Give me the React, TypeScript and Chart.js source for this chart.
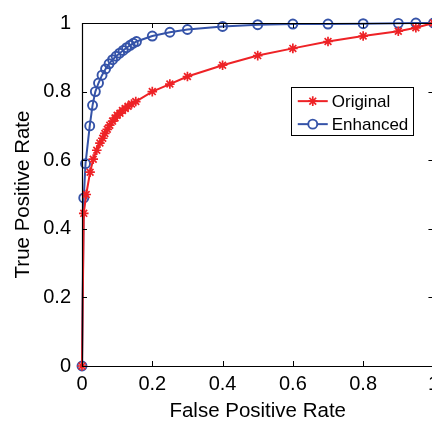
import React, { useEffect, useRef } from 'react';
import { Chart, registerables } from 'chart.js';
Chart.register(...registerables);

const seriesNames = ['Original', 'Enhanced'];
const seriesColors = ['#ee2226', '#3553a8'];

const fprOriginal = [0, 0.005, 0.012, 0.023, 0.032, 0.042, 0.051, 0.059, 0.065, 0.072, 0.079, 0.087, 0.094, 0.1, 0.108, 0.115, 0.123, 0.131, 0.141, 0.153, 0.2, 0.25, 0.3, 0.4, 0.5, 0.6, 0.7, 0.8, 0.9, 0.95, 1];
const tprOriginal = [0, 0.445, 0.5, 0.565, 0.603, 0.629, 0.65, 0.664, 0.678, 0.69, 0.702, 0.714, 0.723, 0.731, 0.737, 0.745, 0.751, 0.757, 0.764, 0.771, 0.8, 0.822, 0.844, 0.877, 0.905, 0.926, 0.946, 0.962, 0.976, 0.986, 1];

const fprEnhanced = [0, 0.005, 0.01, 0.022, 0.03, 0.038, 0.047, 0.057, 0.067, 0.077, 0.087, 0.097, 0.107, 0.117, 0.127, 0.137, 0.146, 0.155, 0.2, 0.25, 0.3, 0.4, 0.5, 0.6, 0.7, 0.8, 0.9, 0.95, 1];
const tprEnhanced = [0, 0.49, 0.59, 0.7, 0.76, 0.8, 0.825, 0.848, 0.866, 0.881, 0.893, 0.903, 0.912, 0.92, 0.928, 0.935, 0.941, 0.946, 0.962, 0.973, 0.981, 0.99, 0.995, 0.997, 0.997, 0.998, 0.999, 1, 1];

const tickValues = [0, 0.2, 0.4, 0.6, 0.8, 1];
const tickLabels = ['0', '0.2', '0.4', '0.6', '0.8', '1'];
const xTitle = 'False Positive Rate';
const yTitle = 'True Positive Rate';

const FONT = '"Liberation Sans", Arial, Helvetica, sans-serif';

function drawStar(ctx: CanvasRenderingContext2D, x: number, y: number, r: number) {
  ctx.beginPath();
  for (let k = 0; k < 4; k++) {
    const a = (k * Math.PI) / 4;
    ctx.moveTo(x - r * Math.cos(a), y - r * Math.sin(a));
    ctx.lineTo(x + r * Math.cos(a), y + r * Math.sin(a));
  }
  ctx.stroke();
}

const framePlugin = {
  id: 'matlabFrame',
  afterDraw(chart: any) {
    const { ctx, chartArea } = chart;
    const { left, right, top, bottom } = chartArea;
    const xs = chart.scales.x;
    const ys = chart.scales.y;
    ctx.save();
    ctx.strokeStyle = '#000';
    ctx.lineWidth = 1.2;
    ctx.beginPath();
    ctx.rect(Math.round(left) + 0.5, Math.round(top) + 0.5, Math.round(right - left), Math.round(bottom - top));
    ctx.stroke();
    const tl = 5;
    ctx.lineWidth = 1;
    ctx.beginPath();
    tickValues.forEach((v) => {
      const px = Math.round(xs.getPixelForValue(v)) + 0.5;
      ctx.moveTo(px, bottom);
      ctx.lineTo(px, bottom - tl);
      ctx.moveTo(px, top);
      ctx.lineTo(px, top + tl);
      const py = Math.round(ys.getPixelForValue(v)) + 0.5;
      ctx.moveTo(left, py);
      ctx.lineTo(left + tl, py);
      ctx.moveTo(right, py);
      ctx.lineTo(right - tl, py);
    });
    ctx.stroke();

    // legend
    const bx = left + (right - left) * 0.594;
    const by = top + (bottom - top) * 0.187;
    const bw = 122;
    const bh = 48;
    ctx.fillStyle = '#fff';
    ctx.fillRect(bx, by, bw, bh);
    ctx.strokeStyle = '#000';
    ctx.strokeRect(Math.round(bx) + 0.5, Math.round(by) + 0.5, bw, bh);
    ctx.font = `17px ${FONT}`;
    ctx.textBaseline = 'middle';
    ctx.textAlign = 'left';
    seriesNames.forEach((name, i) => {
      const ry = by + 14 + i * 23;
      ctx.strokeStyle = seriesColors[i];
      ctx.lineWidth = 2;
      ctx.beginPath();
      ctx.moveTo(bx + 7, ry);
      ctx.lineTo(bx + 37, ry);
      ctx.stroke();
      if (i === 0) {
        ctx.lineWidth = 1.7;
        drawStar(ctx, bx + 22, ry, 4.8);
      } else {
        ctx.lineWidth = 1.9;
        ctx.fillStyle = '#fff';
        ctx.beginPath();
        ctx.arc(bx + 22, ry, 4.5, 0, Math.PI * 2);
        ctx.fill();
        ctx.stroke();
      }
      ctx.fillStyle = '#000';
      ctx.fillText(name, bx + 41, ry + 1);
    });
    ctx.restore();
  },
};

export default function App() {
  const ref = useRef<HTMLCanvasElement | null>(null);
  useEffect(() => {
    if (!ref.current) return;
    const toPts = (xs: number[], ys: number[]) => xs.map((x, i) => ({ x, y: ys[i] }));
    const chart = new Chart(ref.current, {
      type: 'line',
      data: {
        datasets: [
          {
            label: seriesNames[0],
            data: toPts(fprOriginal, tprOriginal),
            borderColor: seriesColors[0],
            backgroundColor: seriesColors[0],
            borderWidth: 2,
            pointStyle: 'star',
            pointRadius: 4.8,
            pointBorderWidth: 1.7,
            pointBorderColor: seriesColors[0],
            tension: 0,
            clip: false as any,
          },
          {
            label: seriesNames[1],
            data: toPts(fprEnhanced, tprEnhanced),
            borderColor: seriesColors[1],
            backgroundColor: 'rgba(255,255,255,0)',
            borderWidth: 2,
            pointStyle: 'circle',
            pointRadius: 4.5,
            pointBorderWidth: 1.9,
            pointBorderColor: seriesColors[1],
            pointBackgroundColor: 'rgba(255,255,255,0)',
            tension: 0,
            clip: false as any,
          },
        ],
      },
      options: {
        animation: false,
        responsive: false,
        events: [],
        layout: { padding: { left: 0, top: 13, right: 10.5, bottom: 0 } },
        plugins: { legend: { display: false }, tooltip: { enabled: false } },
        scales: {
          x: {
            type: 'linear',
            min: 0,
            max: 1,
            afterFit: (s: any) => { s.height = 59; },
            afterBuildTicks: (s: any) => { s.ticks = tickValues.map((v) => ({ value: v })); },
            grid: { display: false, drawTicks: false },
            border: { display: false },
            ticks: {
              color: '#000',
              font: { family: FONT, size: 20 },
              padding: 6,
              maxRotation: 0,
              callback: (v: any) => { const i = tickValues.indexOf(Number(v)); return i >= 0 ? tickLabels[i] : ''; },
            },
            title: { display: true, text: xTitle, color: '#000', font: { family: FONT, size: 20.5 }, padding: { top: 0, bottom: 1 } },
          },
          y: {
            type: 'linear',
            min: 0,
            max: 1,
            afterFit: (s: any) => { s.width = 82; },
            afterBuildTicks: (s: any) => { s.ticks = tickValues.map((v) => ({ value: v })); },
            grid: { display: false, drawTicks: false },
            border: { display: false },
            ticks: {
              color: '#000',
              font: { family: FONT, size: 20 },
              padding: 11,
              callback: (v: any) => { const i = tickValues.indexOf(Number(v)); return i >= 0 ? tickLabels[i] : ''; },
            },
            title: { display: true, text: yTitle, color: '#000', font: { family: FONT, size: 20.5 }, padding: { top: 11, bottom: 0 } },
          },
        },
      },
      plugins: [framePlugin],
    });
    return () => chart.destroy();
  }, []);
  return (
    <div style={{ position: 'fixed', left: 0, top: 0, width: 445, height: 425, background: '#fff' }}>
      <canvas ref={ref} width={445} height={425} style={{ display: 'block' }} />
    </div>
  );
}
